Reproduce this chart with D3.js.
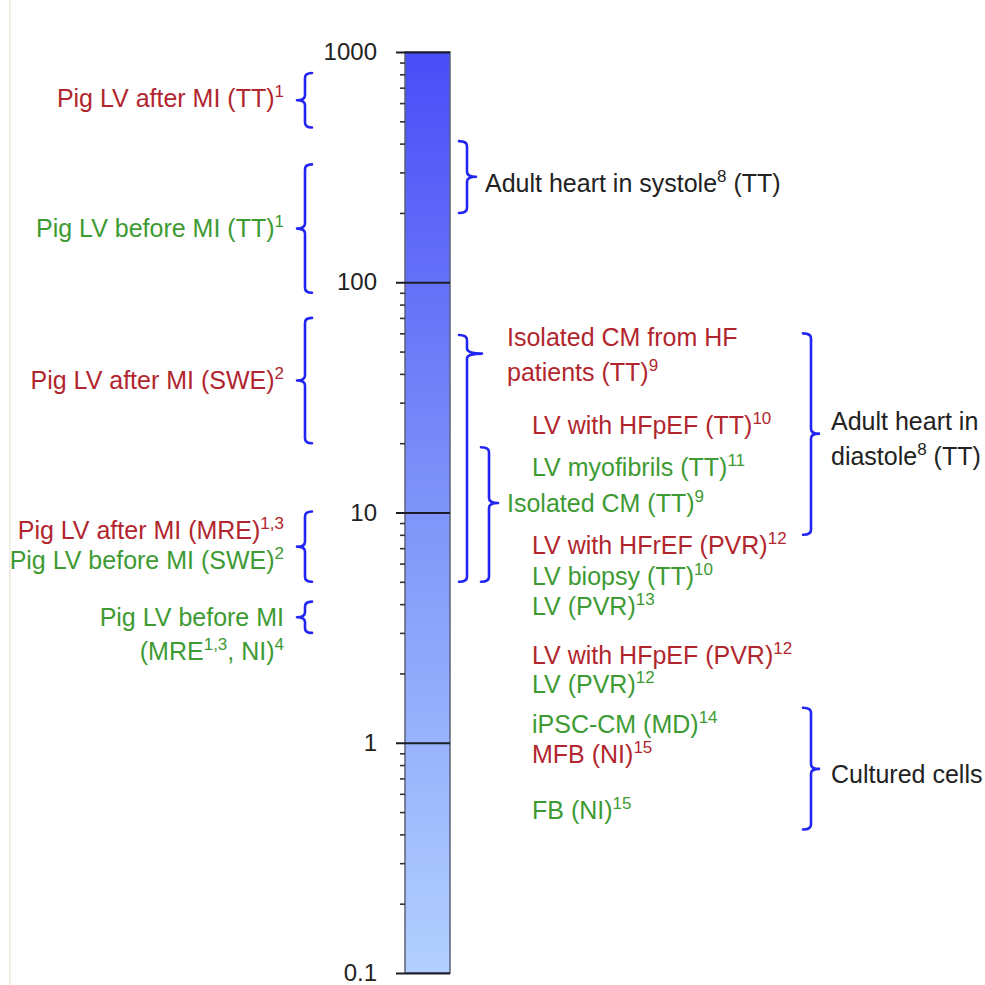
<!DOCTYPE html>
<html>
<head>
<meta charset="utf-8">
<script src="https://cdn.jsdelivr.net/npm/d3@7"></script>
<style>
  html, body { margin: 0; padding: 0; background: #ffffff; }
  svg { display: block; font-family: "Liberation Sans", Arial, sans-serif; }
</style>
</head>
<body>
<svg id="chart" width="985" height="985"></svg>
<script>
// ---------- data ----------
const axisDomain = [0.1, 1000];
const tickValues = [0.1, 1, 10, 100, 1000];
const tickLabels = ["0.1", "1", "10", "100", "1000"];

// left-hand brackets: [low, high]
const leftRanges = [[470, 810], [90, 325], [20, 70], [5, 10.1], [3, 4.1]];

// right-hand brackets: [low, high], tip value, column
const rightRanges = [[200, 410], [5, 59], [5, 19.2], [8, 60], [0.42, 1.42]];
const rightTips = [287, 49, 11, 22, 0.77];
const rightColumns = ["near", "near", "inner", "far", "far"];

// left labels (value = vertical centre)
const leftTexts = [
  "Pig LV after MI (TT)^{1}",
  "Pig LV before MI (TT)^{1}",
  "Pig LV after MI (SWE)^{2}",
  "Pig LV after MI (MRE)^{1,3}",
  "Pig LV before MI (SWE)^{2}",
  "Pig LV before MI",
  "(MRE^{1,3}, NI)^{4}"
];
const leftValues = [632, 171, 37.5, 8.4, 6.2, 3.52, 2.49];
const leftKinds = ["after", "before", "after", "after", "before", "before", "before"];

// labels in the middle column
const midTexts = [
  "LV with HFpEF (TT)^{10}",
  "LV myofibrils (TT)^{11}",
  "LV with HFrEF (PVR)^{12}",
  "LV biopsy (TT)^{10}",
  "LV (PVR)^{13}",
  "LV with HFpEF (PVR)^{12}",
  "LV (PVR)^{12}",
  "iPSC-CM (MD)^{14}",
  "MFB (NI)^{15}",
  "FB (NI)^{15}"
];
const midValues = [24, 15.7, 7.2, 5.3, 3.9, 2.4, 1.8, 1.2, 0.89, 0.51];
const midKinds = ["after", "before", "after", "before", "before", "after", "before", "before", "after", "before"];

// bracket labels
const bracketTexts = [
  "Isolated CM from HF",
  "patients (TT)^{9}",
  "Isolated CM (TT)^{9}",
  "Adult heart in systole^{8} (TT)",
  "Adult heart in",
  "diastole^{8} (TT)",
  "Cultured cells"
];
const bracketValues = [57.6, 40.6, 11.0, 270, 25, 17.6, 0.73];
const bracketKinds = ["after", "after", "before", "neutral", "neutral", "neutral", "neutral"];
const bracketCols = ["inner", "inner", "inner", "near", "far", "far", "far"];

// ---------- layout & style ----------
const colors = { after: "#b1262e", before: "#3e9a33", neutral: "#222222" };
const bracketColor = "#2326f2";
const svg = d3.select("#chart");

const barX = 405, barW = 45;
const y = d3.scaleLog().domain(axisDomain).range([973, 52]);

// faint frame line at the far left
svg.append("line").attr("x1", 10).attr("x2", 10).attr("y1", 0).attr("y2", 985)
  .attr("stroke", "#efe8da").attr("stroke-width", 1.5);

// gradient bar
const defs = svg.append("defs");
const grad = defs.append("linearGradient").attr("id", "barGrad")
  .attr("x1", 0).attr("y1", 0).attr("x2", 0).attr("y2", 1);
grad.append("stop").attr("offset", "0%").attr("stop-color", "#4a4cf8");
grad.append("stop").attr("offset", "50%").attr("stop-color", "#7f95f9");
grad.append("stop").attr("offset", "100%").attr("stop-color", "#b2d0ff");

svg.append("rect")
  .attr("x", barX).attr("y", y(axisDomain[1]))
  .attr("width", barW).attr("height", y(axisDomain[0]) - y(axisDomain[1]))
  .attr("fill", "url(#barGrad)")
  .attr("stroke", "#5a6078").attr("stroke-width", 1.5);

// minor ticks
const minorVals = [];
for (let e = -1; e < 3; e++) for (let m = 2; m <= 9; m++) minorVals.push(m * Math.pow(10, e));
svg.append("g").attr("transform", `translate(${barX},0)`)
  .call(d3.axisLeft(y).tickValues(minorVals).tickSize(5).tickFormat(""))
  .call(g => g.select(".domain").remove())
  .call(g => g.selectAll(".tick line").attr("stroke", "#333").attr("stroke-width", 1.6));

// major ticks with labels
svg.append("g").attr("transform", `translate(${barX},0)`)
  .call(d3.axisLeft(y).tickValues(tickValues).tickSize(9).tickPadding(19)
    .tickFormat((d, i) => tickLabels[i]))
  .call(g => g.select(".domain").remove())
  .call(g => g.selectAll(".tick line").attr("x1", barW).attr("x2", -9)
    .attr("stroke", "#1c1c28").attr("stroke-width", 2))
  .call(g => g.selectAll(".tick text").attr("font-size", 24).attr("fill", "#222")
    .attr("font-family", "Liberation Sans, Arial, sans-serif"));

// ---------- helpers ----------
const FS = 25;
function addRich(sel, str) {
  const parts = str.split(/(\^\{[^}]*\})/).filter(s => s.length);
  let raised = false;
  parts.forEach(p => {
    const m = p.match(/^\^\{([^}]*)\}$/);
    if (m) {
      const t = sel.append("tspan").attr("font-size", 17).text(m[1]);
      if (!raised) t.attr("dy", -10);
      raised = true;
    } else {
      const t = sel.append("tspan").text(p);
      if (raised) t.attr("dy", 10);
      raised = false;
    }
  });
}

function drawText(x, v, str, kind, anchor) {
  const t = svg.append("text")
    .attr("x", x).attr("y", y(v) + FS * 0.35)
    .attr("font-size", FS).attr("fill", colors[kind])
    .attr("text-anchor", anchor);
  addRich(t, str);
}

// bracket path: dir = -1 tip points left, +1 tip points right
function bracketPath(x, y1, y2, ym, hook, tip, dir) {
  const r = 5;
  const hx = x - dir * hook;
  const tx = x + dir * tip;
  return `M${hx},${y1} Q${x},${y1} ${x},${y1 + r} L${x},${ym - r} Q${x},${ym} ${tx},${ym}` +
         ` Q${x},${ym} ${x},${ym + r} L${x},${y2 - r} Q${x},${y2} ${hx},${y2}`;
}

const bracketG = svg.append("g").attr("fill", "none").attr("stroke", bracketColor)
  .attr("stroke-width", 2.6).attr("stroke-linecap", "round").attr("stroke-linejoin", "round");

// left brackets
leftRanges.forEach(([lo, hi]) => {
  const y1 = y(hi), y2 = y(lo), ym = (y1 + y2) / 2;
  bracketG.append("path").attr("d", bracketPath(305, y1, y2, ym, 7, 8, -1));
});

// right brackets
const colX = { near: 467, inner: 489, far: 811 };
const colTip = { near: 9, inner: 9, far: 8 };
rightRanges.forEach(([lo, hi], i) => {
  const col = rightColumns[i];
  const y1 = y(hi), y2 = y(lo), ym = y(rightTips[i]);
  const tip = (i === 1) ? 15 : colTip[col];
  bracketG.append("path").attr("d", bracketPath(colX[col], y1, y2, ym, 8, tip, 1));
});

// ---------- labels ----------
leftTexts.forEach((s, i) => drawText(284, leftValues[i], s, leftKinds[i], "end"));
midTexts.forEach((s, i) => drawText(532, midValues[i], s, midKinds[i], "start"));
const labelX = { inner: 507, near: 485, far: 831 };
bracketTexts.forEach((s, i) => drawText(labelX[bracketCols[i]], bracketValues[i], s, bracketKinds[i], "start"));
</script>
</body>
</html>
